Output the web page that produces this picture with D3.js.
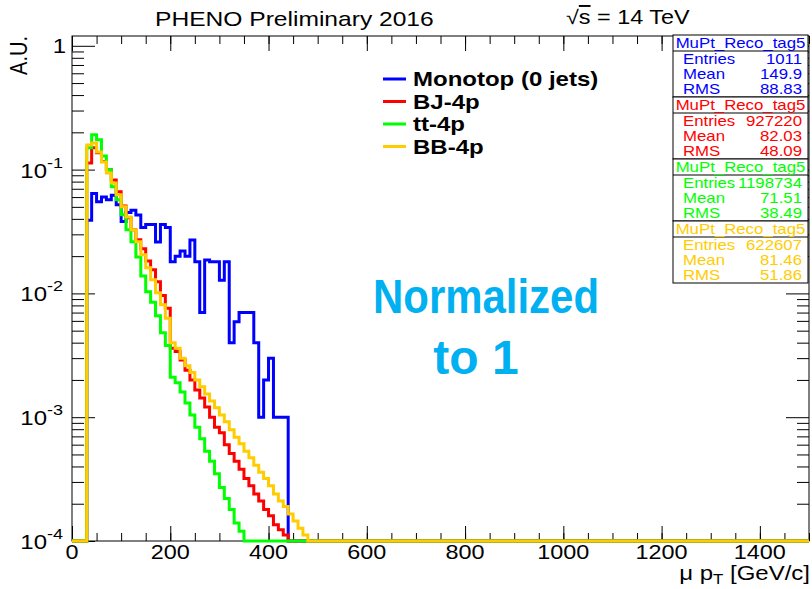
<!DOCTYPE html>
<html>
<head>
<meta charset="utf-8">
<script src="https://cdn.jsdelivr.net/npm/d3@7"></script>
<style>
  html, body { margin: 0; padding: 0; background: #fff; }
  svg { display: block; }
  text { font-family: "Liberation Sans", Arial, Helvetica, sans-serif; }
</style>
</head>
<body>
<svg id="chart" width="812" height="589"></svg>
<script>
// muon pT histograms, 10 GeV bins, first filled bin starts at 30 GeV
var binLow = 30, binWidth = 10;

var monotop = [0.039, 0.064, 0.055, 0.060, 0.057, 0.062, 0.052, 0.038, 0.045, 0.047,
    0.043, 0.034, 0.036, 0.036, 0.026, 0.036, 0.034, 0.018, 0.020, 0.022,
    0.020, 0.027, 0.018, 0.007, 0.0186, 0.018, 0.018, 0.0128, 0.018, 0.004,
    0.0059, 0.007, 0.007, 0.007, 0.004, 0.001, 0.002, 0.003, 0.001, 0.001, 0.001];

var bj4p = [0.113, 0.150, 0.137, 0.116, 0.0995, 0.0826, 0.0661, 0.0509, 0.0408, 0.0326,
    0.0271, 0.0229, 0.0183, 0.0155, 0.0124, 0.0096, 0.0076, 0.0036, 0.0034, 0.0029,
    0.0024, 0.0020, 0.00166, 0.00143, 0.00121, 0.00100, 0.00083, 0.00075, 0.00060, 0.00051,
    0.00044, 0.00038, 0.00032, 0.00028, 0.00024, 0.00021, 0.00018, 0.00016, 0.000135, 0.000123,
    0.000112];

var tt4p = [0.150, 0.191, 0.174, 0.129, 0.0995, 0.0726, 0.0570, 0.0431, 0.0326, 0.0261,
    0.0197, 0.0138, 0.0103, 0.0085, 0.0066, 0.0048, 0.0038, 0.0021, 0.0019, 0.0016,
    0.0013, 0.00104, 0.00083, 0.00067, 0.00053, 0.00044, 0.00035, 0.00027, 0.00022, 0.00018,
    0.00014, 0.00012];

var bb4p = [0.158, 0.164, 0.139, 0.115, 0.094, 0.078, 0.0625, 0.050, 0.0415, 0.0326,
    0.0261, 0.0205, 0.0161, 0.0129, 0.0101, 0.0081, 0.0063, 0.0040, 0.0036, 0.0030,
    0.0026, 0.0023, 0.0020, 0.00176, 0.00154, 0.00135, 0.00119, 0.00104, 0.00092, 0.00079,
    0.00069, 0.00061, 0.00053, 0.00047, 0.00041, 0.00036, 0.00032, 0.00028, 0.00024, 0.00021,
    0.00019, 0.000165, 0.000145, 0.000127, 0.000112];

var seriesNames = ['Monotop (0 jets)', 'BJ-4p', 'tt-4p', 'BB-4p'];
var seriesColors = ['#0000ff', '#ff0000', '#00ff00', '#ffcc00'];

var statTitle = 'MuPt_Reco_tag5';
var statEntries = ['1011', '927220', '1198734', '622607'];
var statMean = ['149.9', '82.03', '71.51', '81.46'];
var statRms = ['88.83', '48.09', '38.49', '51.86'];

var xTickLabels = [0, 200, 400, 600, 800, 1000, 1200, 1400];
var yTickLabels = [1, 1e-1, 1e-2, 1e-3, 1e-4];
var yTickExp = ['', '-1', '-2', '-3', '-4'];

(function () {
    'use strict';

    var svg = d3.select('#chart');
    var SX = 1.2; // the slide squeezed the canvas, text is wider than tall

    var x = d3.scaleLinear().domain([0, 1500]).range([72, 809]);
    var yMin = 1e-4;
    var y = d3.scaleLog().domain([yMin, 1.2]).range([541, 36]);

    function txt(g, px, py, s, size, anchor) {
        return g.append('text')
            .attr('transform', 'translate(' + px + ',' + py + ') scale(' + SX + ',1)')
            .attr('text-anchor', anchor || 'start')
            .style('font-size', size + 'px')
            .text(s);
    }

    // frame
    svg.append('rect')
        .attr('x', 72).attr('y', 36).attr('width', 737).attr('height', 505)
        .attr('fill', 'none').attr('stroke', '#000').attr('stroke-width', 1);

    // ticks, all pointing inwards like ROOT
    var xMinor = d3.range(0, 1501, 50);
    var yMinor = [];
    [1e-4, 1e-3, 1e-2, 1e-1].forEach(function (d) {
        for (var m = 2; m <= 9; m++) { yMinor.push(d * m); }
    });

    function noDomain(g) { g.select('.domain').remove(); }

    svg.append('g').attr('transform', 'translate(0,541)')
        .call(d3.axisBottom(x).tickValues(xMinor).tickSize(-8).tickFormat('')).call(noDomain);
    svg.append('g').attr('transform', 'translate(0,541)')
        .call(d3.axisBottom(x).tickValues(xTickLabels).tickSize(-15).tickFormat('')).call(noDomain);
    svg.append('g').attr('transform', 'translate(0,36)')
        .call(d3.axisTop(x).tickValues(xMinor).tickSize(-8).tickFormat('')).call(noDomain);
    svg.append('g').attr('transform', 'translate(0,36)')
        .call(d3.axisTop(x).tickValues(xTickLabels).tickSize(-15).tickFormat('')).call(noDomain);

    svg.append('g').attr('transform', 'translate(72,0)')
        .call(d3.axisLeft(y).tickValues(yMinor).tickSize(-12).tickFormat('')).call(noDomain);
    svg.append('g').attr('transform', 'translate(72,0)')
        .call(d3.axisLeft(y).tickValues(yTickLabels).tickSize(-23).tickFormat('')).call(noDomain);
    svg.append('g').attr('transform', 'translate(809,0)')
        .call(d3.axisRight(y).tickValues(yMinor).tickSize(-12).tickFormat('')).call(noDomain);
    svg.append('g').attr('transform', 'translate(809,0)')
        .call(d3.axisRight(y).tickValues(yTickLabels).tickSize(-23).tickFormat('')).call(noDomain);

    svg.selectAll('.tick line').attr('stroke', '#000');

    // tick labels
    var labels = svg.append('g').attr('fill', '#000');
    xTickLabels.forEach(function (v) {
        txt(labels, x(v), 559, String(v), 19.5, 'middle');
    });
    yTickLabels.forEach(function (v, i) {
        if (i === 0) {
            txt(labels, 66, y(v) + 7, '1', 20, 'end');
            return;
        }
        var t = txt(labels, 63, y(v) + 8, '', 20, 'end');
        t.append('tspan').text('10');
        t.append('tspan').attr('dy', -10).style('font-size', '15px').text(yTickExp[i]);
    });

    // axis titles
    var xt = txt(svg, 810, 580, '', 20, 'end');
    xt.append('tspan').text('\u03bc p');
    xt.append('tspan').attr('dy', 4).style('font-size', '14px').text('T');
    xt.append('tspan').attr('dy', -4).text(' [GeV/c]');

    svg.append('text')
        .attr('transform', 'translate(27,36) scale(' + SX + ',1) rotate(-90)')
        .attr('text-anchor', 'end')
        .style('font-size', '20px')
        .text('A.U.');

    // titles
    txt(svg, 155, 26, 'PHENO Preliminary 2016', 20.5, 'start');
    var rs = txt(svg, 566, 24, '', 19.5, 'start');
    rs.append('tspan').text('\u221a');
    rs.append('tspan').style('text-decoration', 'overline').text('s');
    rs.append('tspan').text(' = 14 TeV');

    // histograms
    function histPoints(vals) {
        var pts = [[0, 0]];
        vals.forEach(function (v, i) { pts.push([binLow + i * binWidth, v]); });
        pts.push([binLow + vals.length * binWidth, 0]);
        pts.push([1500, 0]);
        return pts;
    }
    var line = d3.line()
        .x(function (d) { return x(d[0]); })
        .y(function (d) { return d[1] > yMin ? y(d[1]) : y(yMin); })
        .curve(d3.curveStepAfter);

    var allSeries = [monotop, bj4p, tt4p, bb4p];
    svg.append('g').selectAll('path')
        .data(allSeries)
        .join('path')
        .attr('d', function (d) { return line(histPoints(d)); })
        .attr('fill', 'none')
        .attr('stroke', function (d, i) { return seriesColors[i]; })
        .attr('stroke-width', 3)
        .attr('stroke-linejoin', 'miter');

    // legend
    var leg = svg.append('g');
    seriesNames.forEach(function (name, i) {
        var ly = 79 + i * 22.5;
        leg.append('line')
            .attr('x1', 383).attr('x2', 406).attr('y1', ly).attr('y2', ly)
            .attr('stroke', seriesColors[i]).attr('stroke-width', 3);
        txt(leg, 413, ly + 7, name, 20, 'start').style('font-weight', 'bold');
    });

    // overlay note from the slide
    var note = svg.append('g').attr('fill', '#00b0f0')
        .style('font-family', 'Lato, "Open Sans", sans-serif')
        .style('font-weight', 'bold')
        .style('font-size', '48px');
    note.append('text').attr('x', 373).attr('y', 313)
        .attr('textLength', 226).attr('lengthAdjust', 'spacingAndGlyphs')
        .text('Normalized');
    note.append('text').attr('x', 476).attr('y', 374).attr('text-anchor', 'middle')
        .text('to 1');

    // stats boxes
    var stats = svg.append('g');
    var boxTop = [35, 97, 159, 221];
    boxTop.forEach(function (t, i) {
        var c = seriesColors[i];
        var g = stats.append('g').attr('fill', c);
        g.append('rect').attr('x', 673).attr('y', t).attr('width', 135).attr('height', 62)
            .attr('fill', '#fff').attr('stroke', '#000');
        g.append('line').attr('x1', 673).attr('x2', 808).attr('y1', t + 16).attr('y2', t + 16)
            .attr('stroke', '#000');
        txt(g, 740.5, t + 13, statTitle, 14, 'middle');
        txt(g, 683, t + 29, 'Entries', 14, 'start');
        txt(g, 802, t + 29, statEntries[i], 14, 'end');
        txt(g, 683, t + 44, 'Mean', 14, 'start');
        txt(g, 802, t + 44, statMean[i], 14, 'end');
        txt(g, 683, t + 59, 'RMS', 14, 'start');
        txt(g, 802, t + 59, statRms[i], 14, 'end');
    });
}());
</script>
</body>
</html>
